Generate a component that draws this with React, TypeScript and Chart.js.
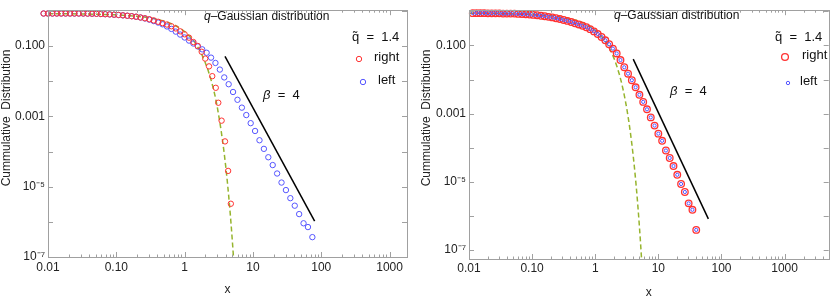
import React, { useEffect, useRef } from "react";
import { Chart, registerables } from "chart.js";

Chart.register(...registerables);

// ---------- tick labels ----------
const xTickValues = [0.01, 0.1, 1, 10, 100, 1000];
const xTickLabels = ["0.01", "0.10", "1", "10", "100", "1000"];
const yTickValues = [1e-7, 1e-5, 1e-3, 0.1];
const yTickLabels = ["10⁻⁷", "10⁻⁵", "0.001", "0.100"];

// ---------- left panel data ----------
const leftBlueX = [0.00862, 0.01, 0.0116, 0.01346, 0.01561, 0.01811, 0.02102, 0.02438, 0.02828, 0.03281, 0.03806, 0.04416, 0.05123, 0.05943, 0.06895, 0.07998, 0.09279, 0.1076, 0.1249, 0.1449, 0.1681, 0.195, 0.2262, 0.2624, 0.3044, 0.3532, 0.4097, 0.4753, 0.5514, 0.6397, 0.7421, 0.861, 0.9988, 1.159, 1.344, 1.56, 1.809, 2.099, 2.435, 2.825, 3.278, 3.802, 4.411, 5.117, 5.937, 6.887, 7.99, 9.268, 10.75, 12.47, 14.47, 16.79, 19.48, 22.59, 26.21, 30.41, 35.28, 40.93, 47.48, 55.08, 63.9, 74.13];
const leftBlueY = [0.841, 0.841, 0.841, 0.841, 0.841, 0.841, 0.841, 0.841, 0.841, 0.841, 0.836, 0.832, 0.826, 0.815, 0.805, 0.794, 0.779, 0.765, 0.746, 0.727, 0.704, 0.682, 0.648, 0.608, 0.563, 0.512, 0.465, 0.415, 0.361, 0.307, 0.257, 0.212, 0.175, 0.143, 0.118, 0.0975, 0.0805, 0.0644, 0.0468, 0.033, 0.0214, 0.0128, 0.0082, 0.00493, 0.00296, 0.00177, 0.00109, 6.4e-4, 3.84e-4, 2.09e-4, 1.19e-4, 6.87e-5, 4.12e-5, 2.37e-5, 1.31e-5, 8.0e-6, 4.71e-6, 2.88e-6, 1.66e-6, 9.1e-7, 7.1e-7, 3.67e-7];

const leftRedX = [0.00862, 0.01, 0.0116, 0.01346, 0.01561, 0.01811, 0.02102, 0.02438, 0.02828, 0.03281, 0.03806, 0.04416, 0.05123, 0.05943, 0.06895, 0.07998, 0.09279, 0.1076, 0.1249, 0.1449, 0.1681, 0.195, 0.2262, 0.2624, 0.3044, 0.3532, 0.4097, 0.4753, 0.5514, 0.6397, 0.7421, 0.861, 0.9988, 1.159, 1.344, 1.553, 1.778, 2.0, 2.277, 2.537, 2.857, 3.11, 3.478, 3.901, 4.333, 4.747];
const leftRedY = [0.841, 0.841, 0.841, 0.841, 0.841, 0.841, 0.841, 0.841, 0.841, 0.841, 0.836, 0.832, 0.826, 0.815, 0.805, 0.794, 0.779, 0.765, 0.746, 0.727, 0.704, 0.682, 0.648, 0.615, 0.578, 0.536, 0.49, 0.448, 0.409, 0.365, 0.317, 0.262, 0.216, 0.173, 0.13, 0.1007, 0.0687, 0.044, 0.0264, 0.0139, 0.00649, 0.00244, 7.55e-4, 1.94e-4, 2.81e-5, 3.27e-6];

const leftGaussX = [0.01, 0.03, 0.1, 0.2, 0.3, 0.4, 0.5, 0.6, 0.7, 0.8, 0.9, 1.0, 1.2, 1.4, 1.6, 1.8, 2.0, 2.2, 2.4, 2.6, 2.8, 3.0, 3.2, 3.4, 3.6, 3.8, 4.0, 4.2, 4.4, 4.6, 4.8, 5.0, 5.2, 5.4];
const leftGaussY = [0.833, 0.82, 0.772, 0.704, 0.638, 0.574, 0.512, 0.454, 0.399, 0.348, 0.301, 0.257, 0.185, 0.129, 0.086, 0.0549, 0.0342, 0.0207, 0.0121, 0.00682, 0.00371, 0.00188, 9.0e-4, 4.3e-4, 1.99e-4, 8.76e-5, 3.72e-5, 1.52e-5, 5.93e-6, 2.24e-6, 8.1e-7, 2.79e-7, 9.4e-8, 3.0e-8];

const leftSlopeX = [3.9, 80];
const leftSlopeY = [0.051, 1.05e-6];

// ---------- right panel data ----------
const rightX = [0.01148, 0.01318, 0.01514, 0.01738, 0.01995, 0.02291, 0.0263, 0.0302, 0.03467, 0.03981, 0.04571, 0.05248, 0.06026, 0.06918, 0.07943, 0.0912, 0.1047, 0.1202, 0.138, 0.1585, 0.182, 0.2089, 0.2399, 0.2754, 0.3162, 0.3631, 0.4169, 0.4786, 0.5495, 0.631, 0.7244, 0.8318, 0.955, 1.096, 1.259, 1.445, 1.66, 1.905, 2.188, 2.512, 2.884, 3.311, 3.802, 4.365, 5.012, 5.754, 6.607, 7.586, 8.71, 10.0, 11.48, 13.18, 15.14, 17.38, 19.95, 22.91, 26.3, 30.2, 34.67, 39.81];
const rightRightY = [0.894, 0.894, 0.894, 0.894, 0.882, 0.882, 0.882, 0.882, 0.865, 0.865, 0.865, 0.865, 0.848, 0.837, 0.826, 0.81, 0.794, 0.774, 0.749, 0.724, 0.696, 0.669, 0.635, 0.603, 0.564, 0.528, 0.488, 0.448, 0.415, 0.381, 0.344, 0.302, 0.26, 0.217, 0.178, 0.142, 0.109, 0.081, 0.0583, 0.0373, 0.0229, 0.01484, 0.00955, 0.00591, 0.00356, 0.0022, 0.00133, 7.69e-4, 4.42e-4, 2.56e-4, 1.58e-4, 8.2e-5, 4.94e-5, 2.86e-5, 1.58e-5, 8.5e-6, 4.94e-6, 2.29e-6, 1.48e-6, 3.8e-7];
const rightLeftY = [0.894, 0.894, 0.894, 0.894, 0.882, 0.882, 0.882, 0.882, 0.865, 0.865, 0.865, 0.865, 0.848, 0.837, 0.826, 0.81, 0.794, 0.774, 0.749, 0.724, 0.696, 0.669, 0.635, 0.603, 0.564, 0.528, 0.488, 0.448, 0.415, 0.381, 0.344, 0.302, 0.26, 0.217, 0.178, 0.142, 0.109, 0.081, 0.0583, 0.0373, 0.0229, 0.01484, 0.00955, 0.00591, 0.00356, 0.0022, 0.00133, 7.69e-4, 4.42e-4, 2.56e-4, 1.58e-4, 8.2e-5, 4.94e-5, 2.86e-5, 1.58e-5, 8.5e-6, 4.94e-6, 2.29e-6, 1.48e-6, 3.8e-7];

const rightGaussX = [0.01, 0.03, 0.1, 0.2, 0.3, 0.4, 0.5, 0.6, 0.7, 0.8, 0.9, 1.0, 1.2, 1.4, 1.6, 1.8, 2.0, 2.2, 2.4, 2.6, 2.8, 3.0, 3.2, 3.4, 3.6, 3.8, 4.0, 4.2, 4.4, 4.6, 4.8, 5.0, 5.2, 5.4, 5.6];
const rightGaussY = [0.883, 0.869, 0.819, 0.749, 0.68, 0.613, 0.549, 0.488, 0.431, 0.377, 0.328, 0.282, 0.205, 0.144, 0.0975, 0.064, 0.0405, 0.0247, 0.0146, 0.00829, 0.00455, 0.0024, 0.00122, 6.0e-4, 2.83e-4, 1.29e-4, 5.63e-5, 2.38e-5, 9.6e-6, 3.76e-6, 1.41e-6, 5.1e-7, 1.77e-7, 5.9e-8, 1.9e-8];

const rightSlopeX = [4.0, 62];
const rightSlopeY = [0.0398, 8.0e-7];

// ---------- styling ----------
const FONT = "'Liberation Sans', Arial, Helvetica, sans-serif";
const RED = "rgb(255,50,50)";
const BLUE = "rgb(85,85,255)";
const GREEN = "rgb(150,180,45)";
const FRAME = "#a0a0a0";
const LABEL = "#222";

type Part = { text: string; italic?: boolean };
type Note = { parts: Part[]; x: number; y: number; size: number };
type Marker = { x: number; y: number; r: number; w: number; color: string };

const pts = (xs: number[], ys: number[]) => xs.map((x, i) => ({ x, y: ys[i] }));

function drawParts(ctx: CanvasRenderingContext2D, n: Note) {
  let cx = n.x;
  ctx.textBaseline = "middle";
  ctx.textAlign = "left";
  ctx.fillStyle = "#111";
  for (const p of n.parts) {
    ctx.font = `${p.italic ? "italic " : ""}${n.size}px ${FONT}`;
    ctx.fillText(p.text, cx, n.y);
    cx += ctx.measureText(p.text).width;
  }
}

function makeDeco(notes: Note[], markers: Marker[], yTitle: { x: number; y: number }) {
  return {
    id: "deco",
    afterDatasetsDraw(chart: any) {
      const { ctx, chartArea: a, scales } = chart;
      const xs = scales.x;
      const ys = scales.y;
      ctx.save();
      ctx.strokeStyle = FRAME;
      ctx.lineWidth = 1;
      ctx.beginPath();
      for (let e = -3; e <= 4; e++) {
        for (let m = 1; m <= 9; m++) {
          const v = m * Math.pow(10, e);
          if (v < xs.min * 0.999 || v > xs.max) continue;
          const px = Math.round(xs.getPixelForValue(v)) + 0.5;
          const len = m === 1 ? 5 : 2.5;
          ctx.moveTo(px, a.bottom);
          ctx.lineTo(px, a.bottom - len);
          ctx.moveTo(px, a.top);
          ctx.lineTo(px, a.top + len);
        }
      }
      for (let e = -8; e <= 1; e++) {
        const v = Math.pow(10, e);
        if (v < ys.min * 0.999 || v > ys.max) continue;
        const py = Math.round(ys.getPixelForValue(v)) + 0.5;
        ctx.moveTo(a.left, py);
        ctx.lineTo(a.left + 5, py);
        ctx.moveTo(a.right, py);
        ctx.lineTo(a.right - 5, py);
      }
      ctx.stroke();
      ctx.strokeRect(
        Math.round(a.left) + 0.5,
        Math.round(a.top) + 0.5,
        Math.round(a.right - a.left),
        Math.round(a.bottom - a.top)
      );
      ctx.restore();
    },
    afterDraw(chart: any) {
      const ctx: CanvasRenderingContext2D = chart.ctx;
      ctx.save();
      for (const n of notes) drawParts(ctx, n);
      for (const mk of markers) {
        ctx.beginPath();
        ctx.strokeStyle = mk.color;
        ctx.lineWidth = mk.w;
        ctx.arc(mk.x, mk.y, mk.r, 0, Math.PI * 2);
        ctx.stroke();
      }
      ctx.translate(yTitle.x, yTitle.y);
      ctx.rotate(-Math.PI / 2);
      ctx.textAlign = "center";
      ctx.textBaseline = "middle";
      ctx.fillStyle = LABEL;
      ctx.font = `12px ${FONT}`;
      ctx.fillText("Cummulative  Distribution", 0, 0);
      ctx.restore();
    },
  };
}

function labelFor(values: number[], labels: string[], v: number) {
  const i = values.findIndex((t) => Math.abs(Math.log10(t) - Math.log10(v)) < 1e-6);
  return i >= 0 ? labels[i] : "";
}

type PanelCfg = {
  width: number;
  left: number;
  padRight: number;
  yWidth: number;
  xHeight: number;
  xMax: number;
  yMin: number;
  yMax: number;
  xPad: number;
  yPad: number;
  titlePadBottom: number;
  datasets: any[];
  notes: Note[];
  markers: Marker[];
  yTitle: { x: number; y: number };
};

function buildConfig(c: PanelCfg): any {
  return {
    type: "scatter",
    data: { datasets: c.datasets },
    plugins: [makeDeco(c.notes, c.markers, c.yTitle)],
    options: {
      animation: false,
      responsive: false,
      maintainAspectRatio: false,
      events: [],
      layout: { padding: { top: 3, right: c.padRight, left: 0, bottom: 0 } },
      plugins: { legend: { display: false }, tooltip: { enabled: false } },
      scales: {
        x: {
          type: "logarithmic",
          position: "bottom",
          min: 0.01,
          max: c.xMax,
          afterFit: (s: any) => {
            s.height = c.xHeight;
          },
          afterBuildTicks: (s: any) => {
            s.ticks = xTickValues.map((v) => ({ value: v }));
          },
          ticks: {
            autoSkip: false,
            maxRotation: 0,
            minRotation: 0,
            padding: c.xPad,
            color: LABEL,
            font: { family: FONT, size: 12 },
            callback: (v: number) => labelFor(xTickValues, xTickLabels, v),
          },
          grid: { display: false, drawTicks: false },
          border: { display: false },
          title: {
            display: true,
            text: "x",
            color: LABEL,
            font: { family: FONT, size: 12 },
            padding: { top: 0, bottom: c.titlePadBottom },
          },
        },
        y: {
          type: "logarithmic",
          position: "left",
          min: c.yMin,
          max: c.yMax,
          afterFit: (s: any) => {
            s.width = c.yWidth;
          },
          afterBuildTicks: (s: any) => {
            s.ticks = yTickValues.map((v) => ({ value: v }));
          },
          ticks: {
            autoSkip: false,
            padding: c.yPad,
            color: LABEL,
            font: { family: FONT, size: 12 },
            callback: (v: number) => labelFor(yTickValues, yTickLabels, v),
          },
          grid: { display: false, drawTicks: false },
          border: { display: false },
        },
      },
    },
  };
}

const leftPanel: PanelCfg = {
  width: 418,
  left: 0,
  padRight: 11,
  yWidth: 48,
  xHeight: 40,
  xMax: 1800,
  yMin: 1e-7,
  yMax: 1.045,
  xPad: 3,
  yPad: 3,
  titlePadBottom: 0,
  datasets: [
    {
      label: "right",
      data: pts(leftRedX, leftRedY),
      borderColor: RED,
      backgroundColor: "rgba(0,0,0,0)",
      pointRadius: 2.7,
      pointBorderWidth: 1,
      clip: false,
      order: 0,
    },
    {
      label: "left",
      data: pts(leftBlueX, leftBlueY),
      borderColor: BLUE,
      backgroundColor: "rgba(0,0,0,0)",
      pointRadius: 2.7,
      pointBorderWidth: 1,
      clip: false,
      order: 1,
    },
    {
      label: "beta = 4",
      data: pts(leftSlopeX, leftSlopeY),
      showLine: true,
      borderColor: "#000",
      borderWidth: 1.5,
      pointRadius: 0,
      order: 2,
    },
    {
      label: "Gaussian",
      data: pts(leftGaussX, leftGaussY),
      showLine: true,
      borderColor: GREEN,
      borderWidth: 1.5,
      borderDash: [5, 3],
      pointRadius: 0,
      order: 3,
    },
  ],
  notes: [
    { parts: [{ text: "q", italic: true }, { text: "–Gaussian distribution" }], x: 204, y: 17, size: 12 },
    { parts: [{ text: "β", italic: true }, { text: "  =  4" }], x: 263, y: 95, size: 13 },
    { parts: [{ text: "q̃  =  1.4" }], x: 352, y: 37, size: 13 },
    { parts: [{ text: "right" }], x: 374, y: 57, size: 13 },
    { parts: [{ text: "left" }], x: 378, y: 80, size: 13 },
  ],
  markers: [
    { x: 359, y: 59, r: 2.7, w: 1, color: RED },
    { x: 363, y: 82, r: 2.7, w: 1, color: BLUE },
  ],
  yTitle: { x: 7, y: 118 },
};

const rightPanel: PanelCfg = {
  width: 414,
  left: 420,
  padRight: 1,
  yWidth: 49,
  xHeight: 38,
  xMax: 5000,
  yMin: 5.3e-8,
  yMax: 1.09,
  xPad: 2,
  yPad: 3,
  titlePadBottom: -3,
  datasets: [
    {
      label: "left",
      data: pts(rightX, rightLeftY),
      borderColor: BLUE,
      backgroundColor: "rgba(0,0,0,0)",
      pointRadius: 1.6,
      pointBorderWidth: 1,
      clip: false,
      order: 0,
    },
    {
      label: "right",
      data: pts(rightX, rightRightY),
      borderColor: RED,
      backgroundColor: "rgba(0,0,0,0)",
      pointRadius: 3.3,
      pointBorderWidth: 1.3,
      clip: false,
      order: 1,
    },
    {
      label: "beta = 4",
      data: pts(rightSlopeX, rightSlopeY),
      showLine: true,
      borderColor: "#000",
      borderWidth: 1.5,
      pointRadius: 0,
      order: 2,
    },
    {
      label: "Gaussian",
      data: pts(rightGaussX, rightGaussY),
      showLine: true,
      borderColor: GREEN,
      borderWidth: 1.5,
      borderDash: [5, 3],
      pointRadius: 0,
      order: 3,
    },
  ],
  notes: [
    { parts: [{ text: "q", italic: true }, { text: "–Gaussian distribution" }], x: 194, y: 16, size: 12 },
    { parts: [{ text: "β", italic: true }, { text: "  =  4" }], x: 250, y: 91, size: 13 },
    { parts: [{ text: "q̃  =  1.4" }], x: 355, y: 37, size: 13 },
    { parts: [{ text: "right" }], x: 382, y: 55, size: 13 },
    { parts: [{ text: "left" }], x: 380, y: 81, size: 13 },
  ],
  markers: [
    { x: 365, y: 57, r: 3.4, w: 1.3, color: RED },
    { x: 368, y: 83, r: 1.7, w: 1, color: BLUE },
  ],
  yTitle: { x: 7, y: 118 },
};

function Panel({ cfg }: { cfg: PanelCfg }) {
  const ref = useRef<HTMLCanvasElement>(null);
  useEffect(() => {
    const chart = new Chart(ref.current as HTMLCanvasElement, buildConfig(cfg));
    return () => chart.destroy();
  }, [cfg]);
  return (
    <canvas
      ref={ref}
      width={cfg.width}
      height={297}
      style={{ position: "absolute", left: cfg.left, top: 0, width: cfg.width, height: 297 }}
    />
  );
}

export default function App() {
  return (
    <div style={{ position: "absolute", left: 0, top: 0, width: 834, height: 297, background: "#fff" }}>
      <Panel cfg={leftPanel} />
      <Panel cfg={rightPanel} />
    </div>
  );
}
